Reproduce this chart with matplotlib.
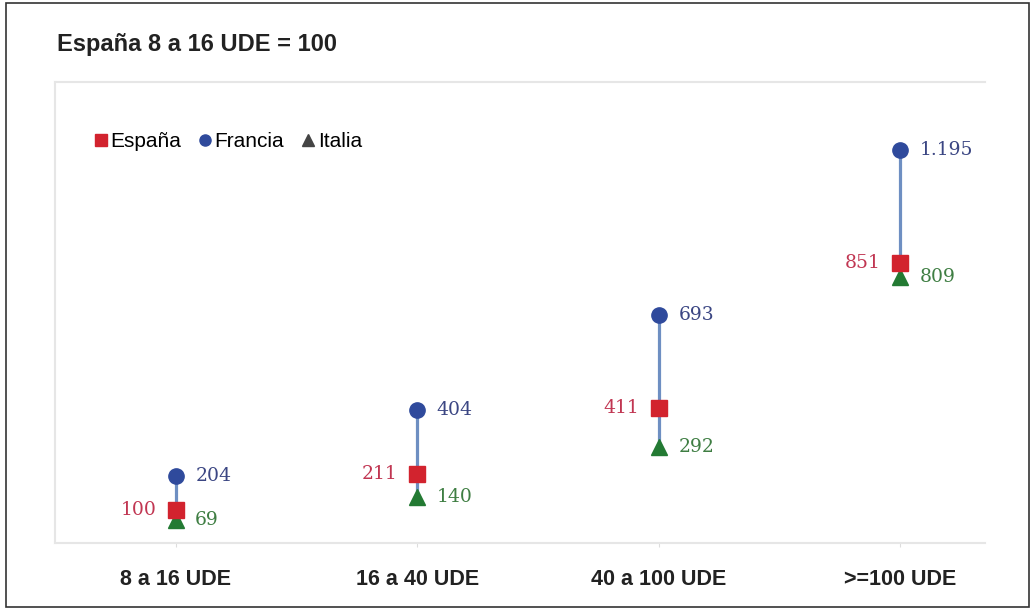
import matplotlib.pyplot as plt
from matplotlib.lines import Line2D
from matplotlib.patches import Rectangle

# indice, Espana 8 a 16 UDE = 100
categorias = ['8 a 16 UDE', '16 a 40 UDE', '40 a 100 UDE', '>=100 UDE']
espana = [100, 211, 411, 851]
francia = [204, 404, 693, 1195]
italia = [69, 140, 292, 809]
etiq_espana = ['100', '211', '411', '851']
etiq_francia = ['204', '404', '693', '1.195']
etiq_italia = ['69', '140', '292', '809']

rojo = '#d2232e'
azul = '#2f4a9c'
verde = '#237a33'
linea = '#6e8fc2'

fig = plt.figure(figsize=(10.32, 6.09), dpi=100)
fig.patches.append(Rectangle((6 / 1032, 2 / 609), 1023 / 1032, 604 / 609,
                             transform=fig.transFigure, fill=False,
                             edgecolor='#333333', linewidth=1.2))

ax = fig.add_axes([55 / 1032, 1 - 543 / 609, 930 / 1032, 461 / 609])
x = range(len(categorias))

for i in x:
    vals = [espana[i], francia[i], italia[i]]
    ax.plot([i, i], [min(vals), max(vals)], color=linea, lw=2.3, zorder=1)

ax.plot(x, francia, 'o', color=azul, ms=11, ls='none', zorder=3)
ax.plot(x, italia, '^', color=verde, ms=11, ls='none', zorder=2)
ax.plot(x, espana, 's', color=rojo, ms=12, ls='none', zorder=4)

fs_dat = 13.5
for i in x:
    ax.annotate(etiq_francia[i], (i, francia[i]), xytext=(14, 0), textcoords='offset points',
                va='center', ha='left', family='DejaVu Serif', fontsize=fs_dat, color='#3b4683')
    ax.annotate(etiq_italia[i], (i, italia[i]), xytext=(14, 0), textcoords='offset points',
                va='center', ha='left', family='DejaVu Serif', fontsize=fs_dat, color='#3f7e43')
    ax.annotate(etiq_espana[i], (i, espana[i]), xytext=(-14, 0), textcoords='offset points',
                va='center', ha='right', family='DejaVu Serif', fontsize=fs_dat, color='#c13652')

ax.set_xlim(-0.5, 3.35)
ax.set_ylim(0, 1402)
ax.set_yticks([])
ax.set_xticks(list(x))
ax.set_xticklabels(categorias, fontsize=15.5, fontweight='bold', family='Liberation Sans', color='#222222')
ax.tick_params(axis='x', length=3, color='#dddddd', pad=16)
for s in ['top', 'left']:
    ax.spines[s].set_color('#e6e6e6')
    ax.spines[s].set_linewidth(1.5)
ax.spines['right'].set_visible(False)
ax.spines['bottom'].set_color('#e6e6e6')
ax.spines['bottom'].set_linewidth(1.5)

handles = [Line2D([], [], marker='s', color=rojo, ls='none', ms=8),
           Line2D([], [], marker='o', color=azul, ls='none', ms=8),
           Line2D([], [], marker='^', color='#444444', ls='none', ms=8)]
ax.legend(handles, ['España', 'Francia', 'Italia'], loc='center left', ncol=3,
          bbox_to_anchor=(0.035, 0.87), frameon=False, handlelength=0.5,
          handletextpad=0.2, columnspacing=0.9, borderaxespad=0,
          prop={'family': 'Liberation Sans', 'size': 15})

fig.text(57 / 1032, 1 - 44 / 609, 'España 8 a 16 UDE = 100', fontsize=17, fontweight='bold',
         family='Liberation Sans', color='#222222', va='center', ha='left')

fig.savefig('out.png', dpi=100)
